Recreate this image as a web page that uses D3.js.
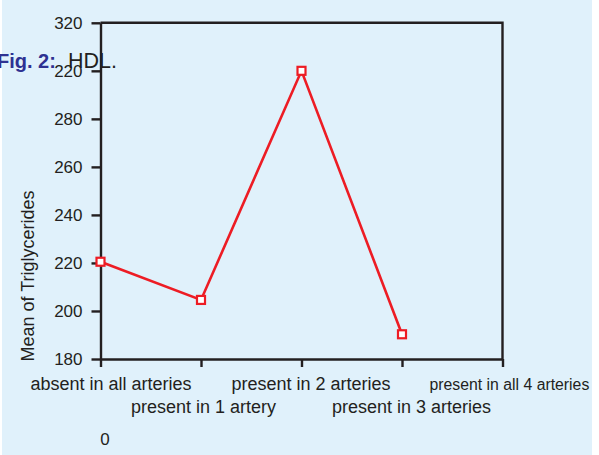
<!DOCTYPE html>
<html>
<head>
<meta charset="utf-8">
<script src="https://cdn.jsdelivr.net/npm/d3@7"></script>
<style>
  html, body { margin: 0; padding: 0; background: #ffffff; }
  svg { display: block; font-family: "Liberation Sans", Arial, sans-serif; }
</style>
</head>
<body>
<svg id="chart" width="599" height="455"></svg>
<script>
const categories = [
  "absent in all arteries",
  "present in 1 artery",
  "present in 2 arteries",
  "present in 3 arteries",
  "present in all 4 arteries"
];
const meanValues = [220.5, 204.6, 300, 190.3];
const yTicks = [180, 200, 220, 240, 260, 280, 300, 320];
const yTickLabels = ["180", "200", "220", "240", "260", "280", "220", "320"];

const svg = d3.select("#chart");
const ink = "#231f20";
const red = "#ed1c24";

svg.append("rect").attr("x", 2).attr("y", 0).attr("width", 590).attr("height", 455).attr("fill", "#e0f1fb");

const plotL = 100.5, plotR = 502.5, plotT = 22.8, plotB = 359;
const x = d3.scalePoint().domain(categories).range([plotL, plotR]);
const y = d3.scaleLinear().domain([180, 320]).range([plotB, plotT]);

// Frame (top and right)
svg.append("path")
  .attr("d", `M${plotL},${plotT}H${plotR}V${plotB}`)
  .attr("fill", "none").attr("stroke", ink).attr("stroke-width", 2.4);

// Y axis
const yAxis = d3.axisLeft(y).tickValues(yTicks)
  .tickFormat((d, i) => yTickLabels[i]).tickSize(9).tickPadding(9).tickSizeOuter(0);
const gy = svg.append("g").attr("transform", `translate(${plotL},0)`).call(yAxis);
gy.select(".domain").attr("stroke", ink).attr("stroke-width", 2.4);
gy.selectAll(".tick line").attr("stroke", ink).attr("stroke-width", 2.4);
gy.selectAll(".tick text").attr("fill", ink).attr("font-size", 17)
  .attr("font-family", "Liberation Sans, Arial, sans-serif");

// X axis
const xAxis = d3.axisBottom(x).tickSize(8).tickSizeOuter(0).tickFormat("");
const gx = svg.append("g").attr("transform", `translate(0,${plotB})`).call(xAxis);
gx.select(".domain").attr("stroke", ink).attr("stroke-width", 2.4);
gx.selectAll(".tick line").attr("stroke", ink).attr("stroke-width", 2.4);

// X labels (staggered)
svg.append("g").selectAll("text").data(categories).join("text")
  .attr("x", (d, i) => x(d) - (i === 4 ? 73 : 70))
  .attr("y", (d, i) => i % 2 === 0 ? 390 : 413)
  .attr("fill", ink)
  .attr("font-size", (d, i) => i === 4 ? 15.8 : 18)
  .text(d => d);

// Y axis title
svg.append("text")
  .attr("transform", `translate(33.5,276) rotate(-90)`)
  .attr("text-anchor", "middle").attr("fill", ink).attr("font-size", 18)
  .text("Mean of Triglycerides");

// Stray "0"
svg.append("text").attr("x", 105).attr("y", 445).attr("text-anchor", "middle")
  .attr("fill", ink).attr("font-size", 17).text("0");

// Line
const pts = meanValues.map((v, i) => [x(categories[i]), y(v)]);
svg.append("path").datum(pts)
  .attr("d", d3.line())
  .attr("fill", "none").attr("stroke", red).attr("stroke-width", 2.6);

svg.append("g").selectAll("rect").data(pts).join("rect")
  .attr("x", d => d[0] - 4).attr("y", d => d[1] - 4)
  .attr("width", 8).attr("height", 8)
  .attr("fill", "#ffffff").attr("stroke", red).attr("stroke-width", 2.2);

// Caption overlay
const cap = svg.append("text").attr("x", -3).attr("y", 68);
cap.append("tspan").attr("font-weight", "bold").attr("fill", "#2e3192").attr("font-size", 20).text("Fig. 2:");
cap.append("tspan").attr("dx", 12).attr("fill", ink).attr("font-size", 21.5).text("HDL.");
</script>
</body>
</html>
